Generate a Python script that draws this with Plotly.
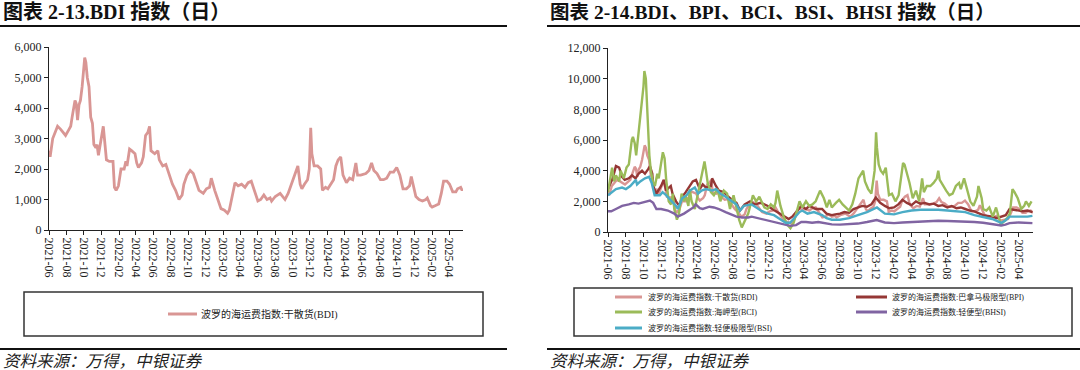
import plotly.graph_objects as go

# ---------------- data ----------------
bdi_dates = [
    "2021-06-01","2021-06-05","2021-06-14","2021-06-23","2021-07-01","2021-07-12","2021-07-29","2021-08-10",
    "2021-08-16","2021-08-21","2021-08-27","2021-08-31","2021-09-04","2021-09-09","2021-09-14","2021-09-19",
    "2021-09-25","2021-09-29","2021-10-04","2021-10-08","2021-10-13","2021-10-19","2021-10-25","2021-10-31",
    "2021-11-05","2021-11-12","2021-11-16","2021-11-21","2021-11-27","2021-12-04","2021-12-08","2021-12-12",
    "2021-12-19","2021-12-29","2022-01-11","2022-01-16","2022-01-22","2022-01-30","2022-02-08","2022-02-19",
    "2022-02-25","2022-03-01","2022-03-10","2022-03-17","2022-03-29","2022-04-04","2022-04-10","2022-04-21",
    "2022-04-27","2022-05-05","2022-05-13","2022-05-19","2022-05-24","2022-06-06","2022-06-17","2022-06-22",
    "2022-07-04","2022-07-15","2022-07-26","2022-08-07","2022-08-18","2022-08-30","2022-09-10","2022-09-16",
    "2022-09-27","2022-10-08","2022-10-19","2022-11-01","2022-11-08","2022-11-23","2022-12-04","2022-12-15",
    "2022-12-21","2023-01-02","2023-01-13","2023-01-24","2023-02-05","2023-02-16","2023-02-22","2023-03-03",
    "2023-03-14","2023-03-25","2023-04-06","2023-04-18","2023-04-29","2023-05-10","2023-05-21","2023-06-02",
    "2023-06-12","2023-06-23","2023-07-04","2023-07-15","2023-07-20","2023-08-02","2023-08-19","2023-08-30",
    "2023-09-05","2023-09-16","2023-09-28","2023-10-06","2023-10-14","2023-10-20","2023-10-28","2023-11-03",
    "2023-11-12","2023-11-23","2023-11-29","2023-12-04","2023-12-08","2023-12-16","2023-12-28","2024-01-08",
    "2024-01-14","2024-01-25","2024-02-02","2024-02-11","2024-02-22","2024-03-01","2024-03-09","2024-03-18",
    "2024-03-26","2024-04-07","2024-04-18","2024-04-29","2024-05-10","2024-05-16","2024-05-27","2024-06-14",
    "2024-06-25","2024-07-04","2024-07-12","2024-07-23","2024-08-04","2024-08-15","2024-08-26","2024-09-07",
    "2024-09-19","2024-09-30","2024-10-11","2024-10-22","2024-11-03","2024-11-14","2024-11-20","2024-11-25",
    "2024-12-06","2024-12-17","2024-12-29","2025-01-10","2025-01-15","2025-01-26","2025-02-01","2025-02-13",
    "2025-02-24","2025-03-05","2025-03-13","2025-03-25","2025-04-03","2025-04-14","2025-04-25","2025-05-01",
    "2025-05-12","2025-05-17","2025-05-20",
]
bdi_values = [
    2600,2400,3000,3250,3400,3300,3100,3300,
    3400,3700,4100,4250,4150,3600,4100,4250,
    4700,5200,5650,5500,5000,4700,3700,3500,
    2800,2700,2800,2450,2750,3200,3400,3000,
    2300,2250,2250,1400,1300,1450,2000,2000,
    2250,2100,2650,2600,2500,2200,2050,2200,
    2400,3100,3200,3400,2600,2500,2600,2300,
    2100,2150,1800,1500,1300,1000,1150,1500,
    1800,1950,1850,1500,1300,1200,1350,1400,
    1700,1300,1000,700,650,550,650,1100,
    1550,1450,1500,1400,1550,1600,1300,950,
    1000,1150,1000,1050,950,1100,1200,1050,
    1000,1200,1500,1750,1950,2100,1500,1350,
    1500,1650,2000,3350,2500,2100,2100,2000,
    1300,1400,1350,1500,1650,2100,2300,2400,
    1800,1550,1700,1650,2200,1800,1800,1850,
    1950,2200,1950,1850,1650,1650,1700,1900,
    1900,2050,1800,1350,1350,1450,1750,1550,
    1100,1000,950,1000,1050,800,750,800,
    850,1200,1600,1600,1500,1250,1250,1350,
    1400,1300,1350,
]

bpi_dates = [
    "2021-06-01","2021-06-17","2021-06-28","2021-07-09","2021-07-19","2021-07-28","2021-08-11","2021-08-22",
    "2021-09-03","2021-09-13","2021-09-25","2021-10-05","2021-10-16","2021-10-22","2021-10-30","2021-11-02",
    "2021-11-13","2021-11-29","2021-12-08","2021-12-16","2021-12-26","2022-01-01","2022-01-07","2022-01-19",
    "2022-01-30","2022-02-09","2022-02-21","2022-03-07","2022-03-17","2022-03-28","2022-04-10","2022-04-20",
    "2022-05-01","2022-05-18","2022-05-22","2022-06-04","2022-06-14","2022-07-01","2022-07-16","2022-08-04",
    "2022-08-13","2022-08-25","2022-09-10","2022-09-28","2022-10-13","2022-11-04","2022-11-28","2022-12-13",
    "2022-12-30","2023-01-22","2023-02-07","2023-02-19","2023-03-04","2023-03-22","2023-04-07","2023-04-19",
    "2023-05-10","2023-06-01","2023-06-16","2023-07-04","2023-07-16","2023-08-01","2023-08-16","2023-09-01",
    "2023-09-16","2023-10-01","2023-10-16","2023-11-01","2023-11-16","2023-12-01","2023-12-16","2024-01-01",
    "2024-01-16","2024-02-01","2024-02-16","2024-03-01","2024-03-16","2024-04-01","2024-04-16","2024-05-01",
    "2024-05-16","2024-06-01","2024-06-16","2024-07-01","2024-07-16","2024-08-01","2024-08-16","2024-09-01",
    "2024-09-16","2024-10-01","2024-10-16","2024-11-01","2024-11-16","2024-12-01","2024-12-16","2025-01-01",
    "2025-01-16","2025-02-01","2025-02-16","2025-03-01","2025-03-16","2025-04-01","2025-04-16","2025-05-01",
    "2025-05-18",
]
bpi_values = [
    2800,3500,4300,4200,3600,3400,3500,3700,
    3500,3800,4000,3800,4100,4300,3800,3000,
    2500,3000,3400,2700,2900,3000,2500,2000,
    1700,2300,2600,3000,3300,3400,2800,3100,
    2900,3000,3500,3000,2700,2600,2300,2000,
    1900,1400,1800,2000,1800,1900,1700,1500,
    1300,1000,850,1000,1300,1700,1500,1700,
    1500,1500,1200,1100,1150,1200,1300,1250,
    1500,1600,1700,1650,1800,2250,1900,1700,
    1550,1600,1800,2100,1900,1750,2000,1850,
    1900,1800,1850,1700,1750,1600,1700,1550,
    1600,1500,1400,1350,1200,1100,1050,1000,
    900,1000,1100,1500,1450,1400,1350,1400,
    1300,
]

bci_dates = [
    "2021-06-01","2021-06-08","2021-06-15","2021-06-22","2021-06-28","2021-07-09","2021-07-14","2021-07-25",
    "2021-08-03","2021-08-11","2021-08-14","2021-08-21","2021-08-25","2021-08-31","2021-09-05","2021-09-10",
    "2021-09-14","2021-09-17","2021-09-25","2021-09-30","2021-10-03","2021-10-08","2021-10-11","2021-10-14",
    "2021-10-20","2021-10-25","2021-11-02","2021-11-08","2021-11-16","2021-11-21","2021-11-30","2021-12-05",
    "2021-12-11","2021-12-16","2021-12-25","2022-01-02","2022-01-08","2022-01-13","2022-01-22","2022-01-29",
    "2022-02-07","2022-02-15","2022-02-20","2022-03-02","2022-03-07","2022-03-13","2022-03-24","2022-04-04",
    "2022-04-15","2022-04-20","2022-04-26","2022-05-01","2022-05-07","2022-05-18","2022-05-28","2022-06-09",
    "2022-06-19","2022-07-01","2022-07-12","2022-07-22","2022-08-03","2022-08-14","2022-08-22","2022-08-31",
    "2022-09-11","2022-09-22","2022-10-03","2022-10-08","2022-10-19","2022-10-30","2022-11-16","2022-11-27",
    "2022-12-08","2022-12-19","2022-12-24","2022-12-30","2023-01-10","2023-01-21","2023-02-01","2023-02-13",
    "2023-02-24","2023-03-04","2023-03-16","2023-03-26","2023-04-07","2023-04-18","2023-04-29","2023-05-10",
    "2023-05-18","2023-05-25","2023-06-07","2023-06-17","2023-06-26","2023-07-04","2023-07-18","2023-07-29",
    "2023-08-10","2023-08-20","2023-09-01","2023-09-12","2023-09-22","2023-10-03","2023-10-14","2023-10-19",
    "2023-10-25","2023-11-05","2023-11-16","2023-11-27","2023-12-02","2023-12-05","2023-12-11","2023-12-18",
    "2023-12-26","2024-01-04","2024-01-10","2024-01-15","2024-01-25","2024-02-06","2024-02-17","2024-02-26",
    "2024-03-03","2024-03-08","2024-03-17","2024-03-25","2024-04-05","2024-04-16","2024-04-27","2024-05-07",
    "2024-05-13","2024-05-23","2024-06-04","2024-06-15","2024-06-26","2024-07-01","2024-07-06","2024-07-17",
    "2024-07-28","2024-08-08","2024-08-19","2024-08-30","2024-09-10","2024-09-16","2024-09-27","2024-10-07",
    "2024-10-18","2024-10-29","2024-11-10","2024-11-15","2024-11-26","2024-12-01","2024-12-12","2024-12-22",
    "2025-01-03","2025-01-14","2025-01-25","2025-01-30","2025-02-10","2025-02-21","2025-03-02","2025-03-11",
    "2025-03-18","2025-03-29","2025-04-10","2025-04-20","2025-04-26","2025-05-06","2025-05-15",
]
bci_values = [
    2600,3500,4200,3300,3700,3300,4000,3500,
    4200,4400,5000,6000,6200,5800,5000,6000,
    6500,7000,8600,9500,10500,10000,8500,7000,
    5000,4000,3200,3000,3800,3500,4500,5200,
    4800,3500,2000,1800,2500,1500,800,1200,
    2500,2000,2400,1700,2800,2000,1500,2600,
    3500,4200,4600,4000,3200,2600,2400,2800,
    2000,2700,2500,1500,2400,1500,800,300,
    700,1200,2000,2400,2000,2300,1600,1500,
    1800,1600,1900,2700,1700,1000,500,250,
    600,1200,2000,1600,2000,1700,1800,2000,
    2400,2700,2200,1600,2100,1600,1900,2100,
    1800,1600,1400,1800,2500,3500,3800,4000,
    3300,2800,2500,4000,6500,5500,4400,4000,
    3800,4200,3200,2400,2500,2000,2400,3500,
    4500,4400,3800,3200,2200,2700,2000,3500,
    2600,3000,3000,3200,3500,4000,3400,3000,
    2700,2400,2500,3000,3200,2800,3500,2800,
    2000,1700,2300,3000,2200,1500,1400,1600,
    1000,1600,900,500,700,900,1200,2800,
    2600,2200,1500,1700,2000,1700,2000,
]

bhsi_dates = [
    "2021-06-01","2021-06-12","2021-06-28","2021-07-19","2021-08-11","2021-08-28","2021-09-13","2021-09-25",
    "2021-10-10","2021-10-22","2021-11-02","2021-11-13","2021-11-29","2021-12-22","2022-01-13","2022-01-25",
    "2022-02-15","2022-03-01","2022-03-19","2022-03-27","2022-04-10","2022-04-20","2022-05-13","2022-05-28",
    "2022-06-14","2022-07-07","2022-07-28","2022-08-13","2022-09-01","2022-09-22","2022-10-04","2022-10-25",
    "2022-11-16","2022-12-07","2023-01-01","2023-01-22","2023-02-12","2023-03-04","2023-03-22","2023-04-07",
    "2023-04-28","2023-05-19","2023-06-13","2023-07-04","2023-08-01","2023-09-01","2023-10-01","2023-11-01",
    "2023-12-04","2024-01-01","2024-02-01","2024-03-01","2024-04-01","2024-05-01","2024-06-01","2024-07-01",
    "2024-08-01","2024-09-01","2024-10-01","2024-11-01","2024-12-01","2025-01-01","2025-02-01","2025-02-15",
    "2025-03-01","2025-04-01","2025-05-01","2025-05-18",
]
bhsi_values = [
    1350,1350,1500,1700,1800,1900,1850,1900,
    2000,2050,1900,1500,1500,1400,1200,1000,
    1200,1400,1600,1800,1550,1500,1650,1600,
    1500,1300,1100,1000,950,950,1000,900,
    800,700,600,450,400,450,650,650,
    600,650,550,500,480,500,550,650,
    780,620,580,620,650,700,720,730,
    720,700,700,650,600,520,430,480,
    580,620,600,580,
]

bsi_dates = [
    "2021-06-01","2021-06-28","2021-07-19","2021-08-01","2021-08-16","2021-09-04","2021-09-08","2021-09-19",
    "2021-10-05","2021-10-19","2021-10-28","2021-11-07","2021-11-25","2021-12-04","2021-12-16","2022-01-01",
    "2022-01-19","2022-01-25","2022-02-09","2022-02-24","2022-03-07","2022-03-24","2022-04-04","2022-04-16",
    "2022-05-01","2022-05-22","2022-06-04","2022-06-19","2022-07-07","2022-07-28","2022-08-13","2022-08-25",
    "2022-09-07","2022-10-04","2022-10-19","2022-11-04","2022-11-28","2022-12-19","2023-01-04","2023-01-28",
    "2023-02-12","2023-02-26","2023-03-16","2023-03-25","2023-04-12","2023-05-04","2023-05-19","2023-06-01",
    "2023-06-16","2023-07-04","2023-08-01","2023-09-01","2023-10-01","2023-11-01","2023-12-05","2024-01-01",
    "2024-02-01","2024-03-01","2024-04-01","2024-05-01","2024-06-01","2024-07-01","2024-08-01","2024-09-01",
    "2024-10-01","2024-11-01","2024-12-01","2025-01-01","2025-02-01","2025-02-15","2025-03-01","2025-04-01",
    "2025-05-01","2025-05-18",
]
bsi_values = [
    2400,2800,2900,2800,3000,3400,3100,3300,
    3500,3600,3200,2400,2400,2600,2400,2100,
    1700,1500,2200,2400,2700,2900,2500,2700,
    2800,2700,2800,2500,2300,2000,1800,1400,
    1700,1800,1600,1400,1200,1100,900,600,
    600,900,1300,1400,1200,1300,1200,1100,
    900,800,800,900,1100,1300,1600,1200,
    1150,1300,1400,1450,1450,1450,1400,1350,
    1300,1100,1000,850,600,750,1000,1000,
    1000,1050,
]

tick_labels = [
    "2021-06","2021-08","2021-10","2021-12","2022-02","2022-04","2022-06","2022-08",
    "2022-10","2022-12","2023-02","2023-04","2023-06","2023-08","2023-10","2023-12",
    "2024-02","2024-04","2024-06","2024-08","2024-10","2024-12","2025-02","2025-04",
]
x_start, x_end = "2021-06-01", "2025-05-20"

legend_prefix = "波罗的海运费指数:"
right_series = [
    ("干散货(BDI)", bdi_dates, bdi_values, "#d99694"),
    ("巴拿马极限型(BPI)", bpi_dates, bpi_values, "#953735"),
    ("海岬型(BCI)", bci_dates, bci_values, "#9bbb59"),
    ("轻便型(BHSI)", bhsi_dates, bhsi_values, "#8064a2"),
    ("轻便极限型(BSI)", bsi_dates, bsi_values, "#4bacc6"),
]
title_left = "图表 2-13.BDI 指数（日）"
title_right = "图表 2-14.BDI、BPI、BCI、BSI、BHSI 指数（日）"
source_text = "资料来源：万得，中银证券"

# ---------------- layout helpers ----------------
W, H = 1080, 370
def px(x):
    return x / W
def py(y):
    return 1 - y / H

SERIF = "Liberation Serif, Times New Roman, Noto Sans CJK SC"
MIXED = "Liberation Serif, Noto Sans CJK SC"

fig = go.Figure()

fig.add_trace(go.Scatter(
    x=bdi_dates, y=bdi_values, mode="lines", name=legend_prefix + "干散货(BDI)",
    line=dict(color="#d99694", width=2.8), xaxis="x", yaxis="y", showlegend=False,
))
for name, d, v, c in right_series:
    fig.add_trace(go.Scatter(
        x=d, y=v, mode="lines", name=legend_prefix + name,
        line=dict(color=c, width=2.4), xaxis="x2", yaxis="y2", showlegend=False,
    ))

tickvals = [t + "-01" for t in tick_labels]
xcommon = dict(
    type="date", range=[x_start, x_end], tickvals=tickvals, ticktext=tick_labels,
    tickangle=90, ticks="outside", ticklen=4, tickcolor="#222", showline=True,
    linecolor="#222", linewidth=1, showgrid=False, zeroline=False, automargin=False,
    tickfont=dict(family=SERIF, size=12, color="#222"),
)
ycommon = dict(
    ticks="outside", ticklen=4, tickcolor="#222", showline=True, linecolor="#222",
    linewidth=1, showgrid=False, zeroline=False, tickformat=",", automargin=False,
    tickfont=dict(family=SERIF, size=12, color="#222"),
)

fig.update_layout(
    template="none",
    width=W, height=H, margin=dict(l=0, r=0, t=0, b=0, pad=0, autoexpand=False),
    paper_bgcolor="white", plot_bgcolor="white", showlegend=False,
    xaxis=dict(domain=[px(49), px(463)], anchor="y", **xcommon),
    yaxis=dict(domain=[py(230), py(47)], anchor="x", range=[0, 6000], dtick=1000, **ycommon),
    xaxis2=dict(domain=[px(608), px(1033)], anchor="y2", **xcommon),
    yaxis2=dict(domain=[py(232), py(48)], anchor="x2", range=[0, 12000], dtick=2000, **ycommon),
)

shapes = []
annotations = []

# title and footer rules
for x0, x1 in [(0, 507), (547, 1080)]:
    shapes.append(dict(type="line", xref="paper", yref="paper", x0=px(x0), x1=px(x1),
                       y0=py(26), y1=py(26), line=dict(color="#111", width=2)))
    shapes.append(dict(type="line", xref="paper", yref="paper", x0=px(x0), x1=px(x1),
                       y0=py(349), y1=py(349), line=dict(color="#111", width=2)))

# legend boxes
shapes.append(dict(type="rect", xref="paper", yref="paper", x0=px(24), x1=px(483),
                   y0=py(336), y1=py(292), line=dict(color="#333", width=1.5)))
shapes.append(dict(type="rect", xref="paper", yref="paper", x0=px(574), x1=px(1072),
                   y0=py(336), y1=py(288), line=dict(color="#333", width=1.5)))

# left legend
shapes.append(dict(type="line", xref="paper", yref="paper", x0=px(168), x1=px(197),
                   y0=py(314), y1=py(314), line=dict(color="#d99694", width=3)))
annotations.append(dict(text=legend_prefix + "干散货(BDI)", x=px(199), y=py(314),
                        xref="paper", yref="paper", xanchor="left", yanchor="middle",
                        showarrow=False, font=dict(family=MIXED, size=10, color="#222")))

# right legend (2 columns)
cols = [(615, 642, 646), (856, 887, 890)]
rows = [297, 312, 328]
for i, (name, d, v, c) in enumerate(right_series):
    lx0, lx1, tx = cols[i % 2]
    ry = rows[i // 2]
    shapes.append(dict(type="line", xref="paper", yref="paper", x0=px(lx0), x1=px(lx1),
                       y0=py(ry), y1=py(ry), line=dict(color=c, width=3)))
    annotations.append(dict(text=legend_prefix + name, x=px(tx), y=py(ry),
                            xref="paper", yref="paper", xanchor="left", yanchor="middle",
                            showarrow=False, font=dict(family=MIXED, size=8, color="#222")))

# titles
annotations.append(dict(text="<b>" + title_left + "</b>", x=px(1), y=py(12), xref="paper", yref="paper",
                        xanchor="left", yanchor="middle", showarrow=False,
                        font=dict(family=MIXED, size=20, color="#111")))
annotations.append(dict(text="<b>" + title_right + "</b>", x=px(548), y=py(12), xref="paper", yref="paper",
                        xanchor="left", yanchor="middle", showarrow=False,
                        font=dict(family=MIXED, size=19.5, color="#111")))
# sources
for sx in (1, 548):
    annotations.append(dict(text="<i>" + source_text + "</i>", x=px(sx), y=py(361), xref="paper", yref="paper",
                            xanchor="left", yanchor="middle", showarrow=False,
                            font=dict(family=MIXED, size=16.5, color="#222")))

fig.update_layout(shapes=shapes, annotations=annotations)
fig.write_html(
    "out.html",
    config={"displayModeBar": False},
    post_script="document.body.style.margin='0px';document.body.style.overflow='hidden';",
)
